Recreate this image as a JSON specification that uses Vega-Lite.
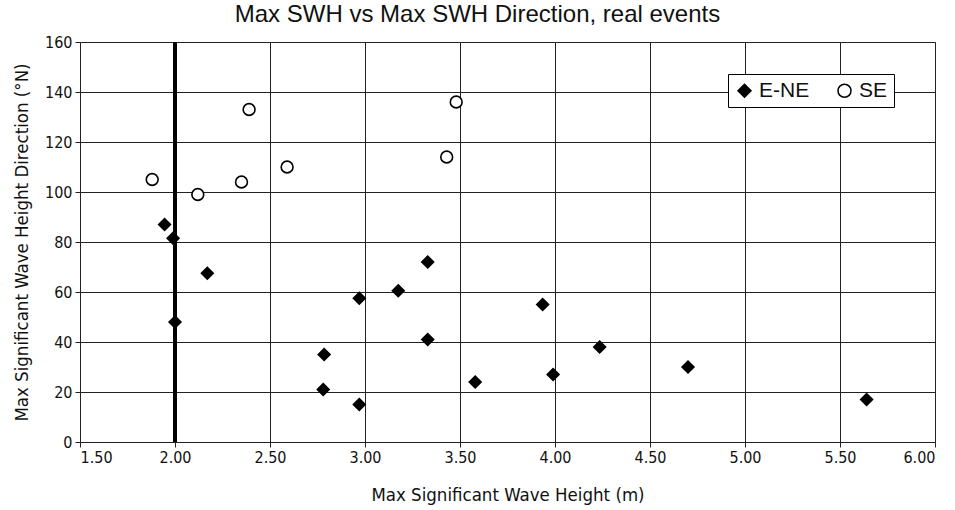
{
  "$schema": "https://vega.github.io/schema/vega-lite/v6.json",
  "width": 855,
  "height": 400,
  "autosize": {"type": "none"},
  "padding": {"left": 80, "top": 42, "right": 20, "bottom": 68},
  "background": "white",
  "config": {
    "font": "Liberation Sans",
    "view": {"stroke": "#777", "strokeWidth": 1},
    "axis": {
      "gridColor": "#222",
      "gridOpacity": 1,
      "gridWidth": 1,
      "domainColor": "#222",
      "tickColor": "#222",
      "tickSize": 5,
      "labelFont": "DejaVu Sans Condensed",
      "labelFontSize": 16,
      "labelColor": "#111",
      "titleFont": "DejaVu Sans Condensed",
      "titleFontSize": 18.5,
      "titleFontWeight": "normal",
      "titleColor": "#111"
    }
  },
  "title": {
    "text": "Max SWH vs Max SWH Direction, real events",
    "fontSize": 24,
    "fontWeight": "normal",
    "color": "#111",
    "offset": 7,
    "dx": -30
  },
  "datasets": {
    "pts": [
      {"swh": 1.88, "dir": 105, "group": "SE"},
      {"swh": 2.12, "dir": 99, "group": "SE"},
      {"swh": 2.35, "dir": 104, "group": "SE"},
      {"swh": 2.39, "dir": 133, "group": "SE"},
      {"swh": 2.59, "dir": 110, "group": "SE"},
      {"swh": 3.48, "dir": 136, "group": "SE"},
      {"swh": 3.43, "dir": 114, "group": "SE"},
      {"swh": 1.945, "dir": 87, "group": "E-NE"},
      {"swh": 1.99, "dir": 81.5, "group": "E-NE"},
      {"swh": 2.17, "dir": 67.5, "group": "E-NE"},
      {"swh": 2.0, "dir": 48, "group": "E-NE"},
      {"swh": 2.785, "dir": 35, "group": "E-NE"},
      {"swh": 2.78, "dir": 21, "group": "E-NE"},
      {"swh": 3.33, "dir": 72, "group": "E-NE"},
      {"swh": 3.175, "dir": 60.5, "group": "E-NE"},
      {"swh": 2.97, "dir": 57.5, "group": "E-NE"},
      {"swh": 3.33, "dir": 41, "group": "E-NE"},
      {"swh": 2.97, "dir": 15, "group": "E-NE"},
      {"swh": 3.935, "dir": 55, "group": "E-NE"},
      {"swh": 3.58, "dir": 24, "group": "E-NE"},
      {"swh": 3.99, "dir": 27, "group": "E-NE"},
      {"swh": 4.235, "dir": 38, "group": "E-NE"},
      {"swh": 4.70, "dir": 30, "group": "E-NE"},
      {"swh": 5.64, "dir": 17, "group": "E-NE"}
    ],
    "thresh": [{"swh": 2.0}]
  },
  "layer": [
    {
      "data": {"name": "thresh"},
      "mark": {"type": "rule", "color": "black", "strokeWidth": 4},
      "encoding": {
        "x": {"field": "swh", "type": "quantitative", "scale": {"domain": [1.5, 6]}}
      }
    },
    {
      "data": {"name": "pts"},
      "mark": {"type": "point", "filled": false, "opacity": 1, "size": 140, "stroke": "black", "strokeWidth": 1.6},
      "encoding": {
        "x": {
          "field": "swh", "type": "quantitative",
          "scale": {"domain": [1.5, 6], "nice": false, "zero": false},
          "axis": {"title": "Max Significant Wave Height (m)", "format": ".2f", "values": [1.5, 2, 2.5, 3, 3.5, 4, 4.5, 5, 5.5, 6], "titlePadding": 20, "labelPadding": 2}
        },
        "y": {
          "field": "dir", "type": "quantitative",
          "scale": {"domain": [0, 160], "nice": false},
          "axis": {"title": "Max Significant Wave Height Direction (°N)", "values": [0, 20, 40, 60, 80, 100, 120, 140, 160], "titlePadding": 13, "labelPadding": 3}
        },
        "shape": {
          "field": "group", "type": "nominal",
          "scale": {"domain": ["E-NE", "SE"], "range": ["diamond", "circle"]},
          "legend": {
            "title": null, "orient": "none", "legendX": 648, "legendY": 32,
            "direction": "horizontal", "strokeColor": "black", "fillColor": "white",
            "padding": 6, "labelFontSize": 21, "labelColor": "#111", "symbolSize": 170,
            "columnPadding": 24, "labelOffset": 4,
            "encode": {
              "symbols": {"update": {"stroke": {"value": "black"}, "strokeWidth": {"value": 3}}},
              "legend": {"update": {"strokeWidth": {"value": 1.5}}}
            }
          }
        },
        "fill": {
          "field": "group", "type": "nominal",
          "scale": {"domain": ["E-NE", "SE"], "range": ["black", "white"]},
          "legend": null
        }
      }
    }
  ]
}
